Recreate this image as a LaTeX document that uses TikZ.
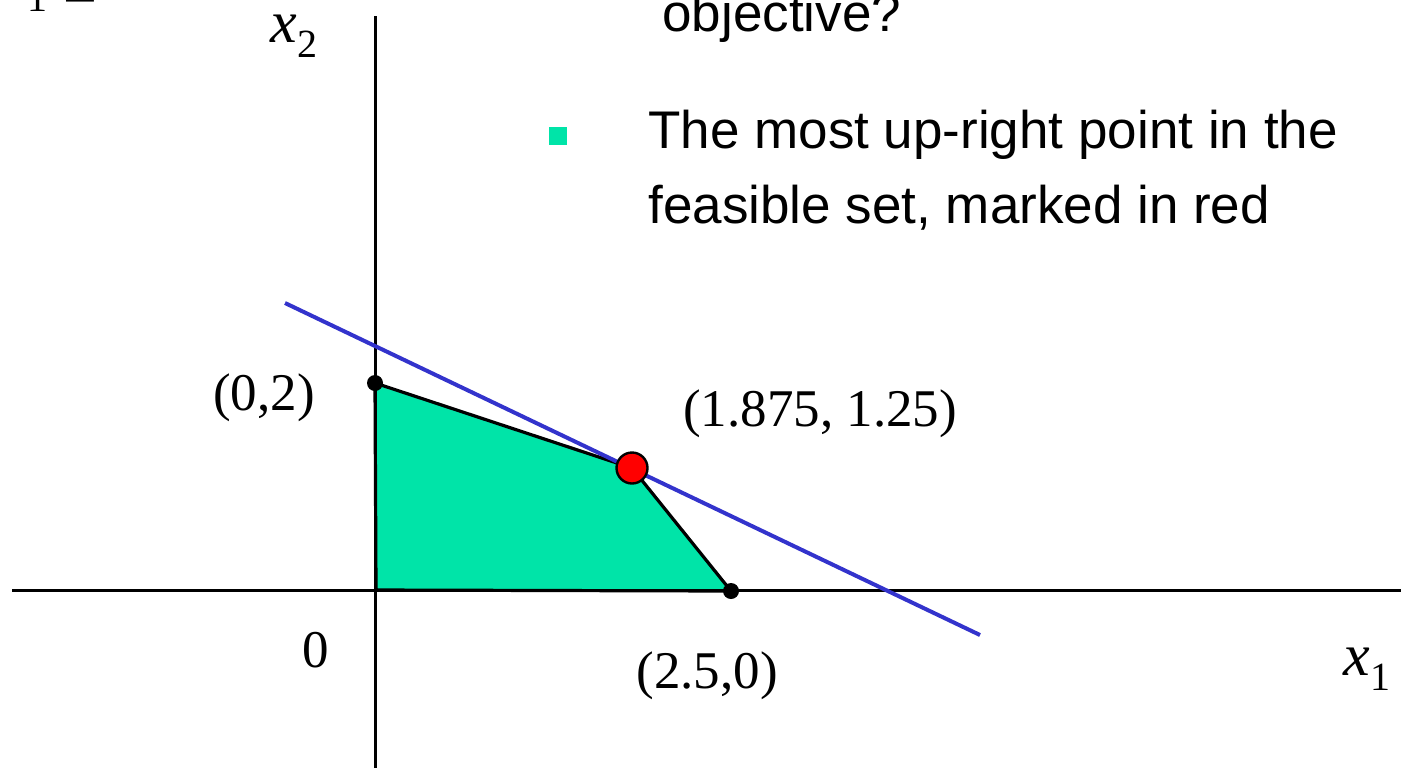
\documentclass[tikz,border=0pt]{standalone}
\usepackage{fontspec}
\setmainfont{Liberation Serif}
\newfontfamily\arialfont{Liberation Sans}
\definecolor{feas}{RGB}{0,228,168}
\definecolor{objblue}{RGB}{51,51,204}
\definecolor{optred}{RGB}{255,0,0}
\tikzset{
  axisline/.style={line width=1.5pt, black},
  edgeline/.style={line width=1.6pt, black, line join=round},
  objline/.style={line width=2pt, objblue},
  vertexdot/.style={circle, fill=black, inner sep=0pt, minimum size=8pt},
  optdot/.style={circle, fill=optred, draw=black, line width=1.2pt, inner sep=0pt, minimum size=15.5pt},
  serlabel/.style={anchor=base, inner sep=0pt, font=\fontsize{26.5}{30}\selectfont},
  bodytext/.style={anchor=base west, inner sep=0pt, font=\arialfont\fontsize{26.5}{30}\selectfont},
  varlabel/.style={anchor=base west, inner sep=0pt, font=\fontsize{30}{34}\selectfont},
  bulletsq/.style={fill=feas, inner sep=0pt, minimum size=9pt}
}
\newcommand{\varsub}[1]{\raisebox{-7.5pt}{\fontsize{20}{22}\selectfont #1}}
\begin{document}
\begin{tikzpicture}[x=0.5pt,y=-0.5pt]
\useasboundingbox (0,0) rectangle (1401,768);
% axes ends
\coordinate (xl) at (12,590);
\coordinate (xr) at (1401,590);
\coordinate (yt) at (375,16);
\coordinate (yb) at (375,768);
% feasible region vertices
\coordinate (A) at (375,383);
\coordinate (B) at (632,468);
\coordinate (C) at (731,591);
\coordinate (O) at (376,590);
% objective line ends
\coordinate (L1) at (285,303);
\coordinate (L2) at (980,635);

\fill[feas] (A) -- (B) -- (C) -- (O) -- cycle;
\draw[axisline] (xl) -- (xr);
\draw[axisline] (yt) -- (yb);
\draw[edgeline] (O) -- (A) -- (B) -- (C) -- (O);
\draw[objline] (L1) -- (L2);
\node[vertexdot] (dA) at (A) {};
\node[vertexdot] (dC) at (C) {};
\node[optdot] (dB) at (B) {};

% labels
\node[serlabel] (l02) at (264,410) {(0,2)};
\node[serlabel] (lopt) at (820,426) {(1.875, 1.25)};
\node[serlabel] (l0) at (316,667) {0};
\node[serlabel] (l25) at (707,688) {(2.5,0)};
\node[varlabel] (lx1) at (1343,675) {\textit{x}\varsub{1}};
\node[varlabel] (lx2) at (270,42) {\textit{x}\varsub{2}};

% clipped fragments at top-left
\node[anchor=base, inner sep=0pt, font=\fontsize{20}{22}\selectfont] (frag1) at (37,11) {1};
\node[anchor=base west, inner sep=0pt, font=\fontsize{30}{34}\selectfont] (frag2) at (63,14) {=};

% text
\node[bodytext] (tobj) at (662,31) {objective?};
\node[bulletsq] (bsq) at (558,136) {};
\node[bodytext] (t1) at (648,148) {The most up-right point in the};
\node[bodytext] (t2) at (648,223) {feasible set, marked in red};
\end{tikzpicture}
\end{document}
